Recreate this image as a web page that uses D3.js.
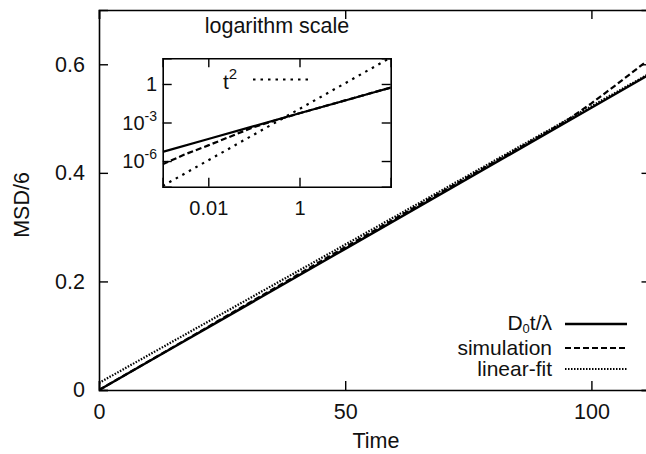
<!DOCTYPE html>
<html>
<head>
<meta charset="utf-8">
<script src="https://cdn.jsdelivr.net/npm/d3@7"></script>
<style>
  body { margin: 0; background: #fff; }
  svg { display: block; font-family: "Liberation Sans", Arial, sans-serif; }
</style>
</head>
<body>
<svg width="646" height="454"></svg>
<script>
// main plot data
let theoryT = [0, 0.001, 0.01, 0.1, 1, 10, 50, 100, 112];
let theoryV = [0, 5.2e-6, 5.2e-5, 5.2e-4, 5.2e-3, 0.052, 0.26, 0.52, 0.5824];

let simT = [0, 0.001, 0.003, 0.01, 0.03, 0.1, 0.3, 1, 10, 20, 30, 40, 50, 60, 70, 80, 90, 95, 100, 105, 112];
let simV = [0, 5.6e-7, 3.2e-6, 1.66e-5, 7.9e-5, 4.4e-4, 1.48e-3, 5.2e-3, 0.0525, 0.105, 0.158, 0.2105, 0.263, 0.315, 0.367, 0.4185, 0.47, 0.4965, 0.528, 0.562, 0.611];

let fitT = [0, 112];
let fitV = [0.013, 0.584];

// inset t^2 guide line
let sqT = [0.001, 0.01, 0.1, 1, 10, 100];
let sqV = [1.14e-8, 1.14e-6, 1.14e-4, 0.0114, 1.14, 114];

let xTicks = [0, 50, 100];
let yTicks = [0, 0.2, 0.4, 0.6];
let insetXTicks = [0.01, 1];
let insetYTicks = [1, 1e-3, 1e-6];

let svg = d3.select("svg");
let mLeft = 99, mRight = 650.5, mTop = 10, mBottom = 390;

let xScale = d3.scaleLinear().domain([0, 112]).range([mLeft, mRight]);
let yScale = d3.scaleLinear().domain([0, 0.7]).range([mBottom, mTop]);

svg.append("clipPath").attr("id", "clip")
  .append("rect").attr("x", mLeft).attr("y", mTop)
  .attr("width", mRight - mLeft).attr("height", mBottom - mTop);

let pts = (ts, vs) => ts.map((t, i) => [t, vs[i]]);

let line = d3.line()
  .x((d) => xScale(d[0]))
  .y((d) => yScale(d[1]));

let plot = svg.append("g").attr("clip-path", "url(#clip)");

plot.append("path").datum(pts(fitT, fitV))
  .attr("d", line).attr("fill", "none").attr("stroke", "#000")
  .attr("stroke-width", 2.2).attr("stroke-dasharray", "1.5,1.5");
plot.append("path").datum(pts(simT, simV))
  .attr("d", line).attr("fill", "none").attr("stroke", "#000")
  .attr("stroke-width", 2.2).attr("stroke-dasharray", "6,3");
plot.append("path").datum(pts(theoryT, theoryV))
  .attr("d", line).attr("fill", "none").attr("stroke", "#000")
  .attr("stroke-width", 2.4);

// axes (gnuplot style: inward ticks, border)
let xAxis = d3.axisBottom(xScale).tickValues(xTicks).tickSize(-9).tickPadding(14).tickFormat(d3.format("d"));
let xAxisTop = d3.axisTop(xScale).tickValues(xTicks).tickSize(-9).tickFormat("");
let yAxis = d3.axisLeft(yScale).tickValues(yTicks).tickSize(-9).tickPadding(14).tickFormat((d) => d === 0 ? "0" : d3.format(".1f")(d));
let yAxisRight = d3.axisRight(yScale).tickValues(yTicks).tickSize(-9).tickFormat("");

let styleAxis = (g) => {
  g.select(".domain").attr("stroke", "#000").attr("stroke-width", 1.6);
  g.selectAll(".tick line").attr("stroke", "#000").attr("stroke-width", 1.4);
  g.selectAll(".tick text").attr("fill", "#111").style("font-size", "21.5px");
};

svg.append("g").attr("transform", "translate(0," + mBottom + ")").call(xAxis).call(styleAxis);
svg.append("g").attr("transform", "translate(0," + mTop + ")").call(xAxisTop).call(styleAxis);
svg.append("g").attr("transform", "translate(" + mLeft + ",0)").call(yAxis).call(styleAxis);
svg.append("g").attr("transform", "translate(" + mRight + ",0)").call(yAxisRight).call(styleAxis);

svg.append("text").attr("x", 376).attr("y", 448).attr("text-anchor", "middle")
  .style("font-size", "21.5px").attr("fill", "#111").text("Time");
svg.append("text").attr("transform", "translate(29,205) rotate(-90)").attr("text-anchor", "middle")
  .style("font-size", "21.5px").attr("fill", "#111").text("MSD/6");

// legend
let legend = svg.append("g");
let legendRows = [
  { y: 324, dash: null, w: 2.4 },
  { y: 348, dash: "6,3", w: 2.2 },
  { y: 369, dash: "1.5,1.5", w: 2 },
];
legendRows.forEach((r) => {
  legend.append("line").attr("x1", 565).attr("x2", 627).attr("y1", r.y).attr("y2", r.y)
    .attr("stroke", "#000").attr("stroke-width", r.w).attr("stroke-dasharray", r.dash);
});
let t1 = legend.append("text").attr("x", 552).attr("y", 330).attr("text-anchor", "end")
  .style("font-size", "21px").attr("fill", "#111");
t1.append("tspan").text("D");
t1.append("tspan").attr("dy", 3).style("font-size", "13px").text("0");
t1.append("tspan").attr("dy", -3).text("t/λ");
legend.append("text").attr("x", 552).attr("y", 355).attr("text-anchor", "end")
  .style("font-size", "21px").attr("fill", "#111").text("simulation");
legend.append("text").attr("x", 552).attr("y", 376).attr("text-anchor", "end")
  .style("font-size", "21px").attr("fill", "#111").text("linear-fit");

// inset (log-log)
let iLeft = 162.7, iRight = 390.7, iTop = 58.3, iBottom = 186.7;
let ix = d3.scaleLog().domain([1e-3, 1e2]).range([iLeft, iRight]);
let iy = d3.scaleLog().domain([1e-8, 1e2]).range([iBottom, iTop]);

svg.append("rect").attr("x", iLeft).attr("y", iTop).attr("width", iRight - iLeft).attr("height", iBottom - iTop)
  .attr("fill", "#fff");

svg.append("clipPath").attr("id", "iclip")
  .append("rect").attr("x", iLeft).attr("y", iTop)
  .attr("width", iRight - iLeft).attr("height", iBottom - iTop);

let iline = d3.line().x((d) => ix(d[0])).y((d) => iy(d[1]));
let inset = svg.append("g").attr("clip-path", "url(#iclip)");
let pos = (arr) => arr.filter((d) => d[0] > 0);

inset.append("path").datum(pts(sqT, sqV))
  .attr("d", iline).attr("fill", "none").attr("stroke", "#000")
  .attr("stroke-width", 2.2).attr("stroke-dasharray", "2.5,5");
inset.append("path").datum(pos(pts(simT, simV)))
  .attr("d", iline).attr("fill", "none").attr("stroke", "#000")
  .attr("stroke-width", 2.2).attr("stroke-dasharray", "6,3");
inset.append("path").datum(pos(pts(theoryT, theoryV)))
  .attr("d", iline).attr("fill", "none").attr("stroke", "#000")
  .attr("stroke-width", 2.2);

let ixAxis = d3.axisBottom(ix).tickValues(insetXTicks).tickSize(-9).tickPadding(14).tickFormat((d) => d === 1 ? "1" : "0.01");
let ixAxisTop = d3.axisTop(ix).tickValues(insetXTicks).tickSize(-9).tickFormat("");
let iyAxis = d3.axisLeft(iy).tickValues(insetYTicks).tickSize(-9).tickFormat("");
let iyAxisRight = d3.axisRight(iy).tickValues(insetYTicks).tickSize(-9).tickFormat("");

let styleInset = (g) => {
  g.select(".domain").attr("stroke", "#000").attr("stroke-width", 1.6);
  g.selectAll(".tick line").attr("stroke", "#000").attr("stroke-width", 1.4);
  g.selectAll(".tick text").attr("fill", "#111").style("font-size", "20px");
};
svg.append("g").attr("transform", "translate(0," + iBottom + ")").call(ixAxis).call(styleInset);
svg.append("g").attr("transform", "translate(0," + iTop + ")").call(ixAxisTop).call(styleInset);
svg.append("g").attr("transform", "translate(" + iLeft + ",0)").call(iyAxis).call(styleInset);
svg.append("g").attr("transform", "translate(" + iRight + ",0)").call(iyAxisRight).call(styleInset);

// inset y labels with superscripts
insetYTicks.forEach((v) => {
  let exp = Math.round(Math.log10(v));
  let t = svg.append("text").attr("x", 157).attr("y", iy(v) + 7).attr("text-anchor", "end")
    .style("font-size", "20px").attr("fill", "#111");
  if (exp === 0) {
    t.text("1");
  } else {
    t.append("tspan").text("10");
    t.append("tspan").attr("dy", -9).style("font-size", "14px").text(String(exp));
  }
});

svg.append("text").attr("x", 277).attr("y", 33).attr("text-anchor", "middle")
  .style("font-size", "21.5px").attr("fill", "#111").text("logarithm scale");

let tt = svg.append("text").attr("x", 223).attr("y", 89).style("font-size", "21px").attr("fill", "#111");
tt.append("tspan").text("t");
tt.append("tspan").attr("dy", -10).style("font-size", "15px").text("2");
svg.append("line").attr("x1", 253).attr("x2", 313).attr("y1", 79.5).attr("y2", 79.5)
  .attr("stroke", "#000").attr("stroke-width", 2.2).attr("stroke-dasharray", "2.5,5");
</script>
</body>
</html>
